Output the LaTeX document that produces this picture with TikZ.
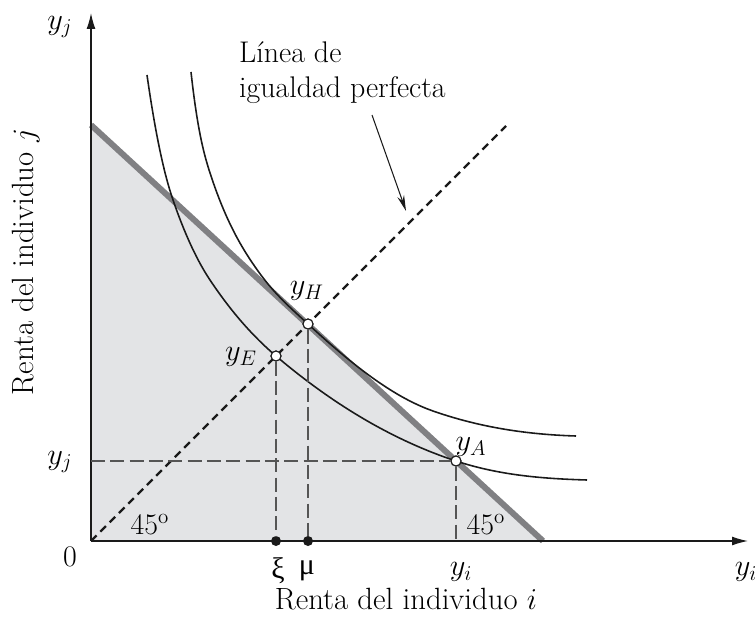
\documentclass[tikz,border=0pt]{standalone}
\usepackage{fontspec}
\usepackage{tikz}
\usetikzlibrary{positioning,arrows.meta,calc}
\newfontfamily\grkfont{Liberation Serif}
\definecolor{ink}{HTML}{1A1A1A}
\definecolor{budg}{HTML}{808083}
\definecolor{feas}{HTML}{E3E4E6}
\definecolor{drop}{HTML}{555555}

\begin{document}
\begin{tikzpicture}[font=\fontsize{17}{20}\selectfont,
  axis/.style={ink,line width=0.7pt,-{Latex[length=9pt,width=5pt]}},
  indiff/.style={ink,line width=0.9pt},
  guide/.style={drop,line width=0.6pt,dash pattern=on 8pt off 3pt},
  eqline/.style={ink,line width=1.3pt,dash pattern=on 4.5pt off 3pt},
  opt/.style={circle,draw=ink,fill=white,line width=0.6pt,inner sep=0pt,minimum size=0.2cm},
  tick/.style={circle,fill=ink,inner sep=0pt,minimum size=0.2cm},
  ticklab/.style={inner sep=0.5pt},
  axtitle/.style={inner sep=0.5pt,font=\fontsize{17.5}{21}\selectfont}]
\useasboundingbox (-1.82,-1.5) rectangle (13.28,10.82);
% feasible set below the budget line
\fill[feas] (0,0) -- (0,8.32) -- (9.04,0) -- cycle;
\draw[budg,line width=3.4pt] (0,8.32) -- (9.04,0);
% axes
\coordinate (O) at (0,0);
\coordinate (ytop) at (0,10.56);
\coordinate (xend) at (13.14,0);
\draw[axis] (O) -- (ytop);
\draw[axis] (O) -- (xend);
% line of perfect equality
\coordinate (eqend) at (8.3,8.3);
\draw[eqline] (O) -- (eqend);
% indifference curves
\draw[indiff] (1.12,9.32) .. controls (1.293,8.107) and (1.467,7.323) .. (1.64,6.82)
  .. controls (1.887,6.105) and (2.133,5.59) .. (2.38,5.22)
  .. controls (2.82,4.56) and (3.26,4.074) .. (3.7,3.7)
  .. controls (4.9,2.68) and (6.1,1.996) .. (7.3,1.6)
  .. controls (8.173,1.312) and (9.047,1.246) .. (9.92,1.22);
\draw[indiff] (2.0,9.38) .. controls (2.133,8.18) and (2.267,7.7) .. (2.4,7.3)
  .. controls (2.713,6.36) and (3.027,5.838) .. (3.34,5.4)
  .. controls (3.673,4.933) and (4.007,4.647) .. (4.34,4.34)
  .. controls (5.173,3.573) and (6.007,2.892) .. (6.84,2.6)
  .. controls (7.793,2.266) and (8.747,2.129) .. (9.7,2.1);
% points on the axes
\node[tick] (xi) at (3.7,0) {};
\node[tick] (mu) at (4.34,0) {};
\coordinate (yiT) at (7.3,0);
\coordinate (yjT) at (0,1.6);
% equivalent, mean and actual incomes
\node[opt] (yE) at (3.7,3.7) {};
\node[opt] (yH) at (4.34,4.34) {};
\node[opt] (yA) at (7.3,1.6) {};
\draw[guide] (yE) -- (xi);
\draw[guide] (yH) -- (mu);
\draw[guide] (yA) -- (yiT);
\draw[guide] (yjT) -- (yA);
\node[opt] at (yE) {};
\node[opt] at (yH) {};
\node[opt] at (yA) {};
% labels
\node at (3.0,3.68) {$y_E$};
\node at (4.32,5.0) {$y_H$};
\node at (7.6,1.88) {$y_A$};
\node at (1.18,0.32) {45\textsuperscript{o}};
\node at (7.9,0.32) {45\textsuperscript{o}};
\node at (-0.62,10.28) {$y_j$};
\node[ticklab] at (13.1,-0.62) {$y_i$};
\node at (-0.42,-0.32) {0};
\node at (-0.62,1.58) {$y_j$};
\node[ticklab] at (3.74,-0.6) {\grkfont ξ};
\node[ticklab] at (4.32,-0.6) {\grkfont μ};
\node[ticklab] at (7.4,-0.62) {$y_i$};
\node[axtitle] at (6.3,-1.16) {Renta del individuo $i$};
\node[axtitle,rotate=90] at (-1.3,5.58) {Renta del individuo $j$};
\node[align=left,anchor=west] (lbl) at (2.84,9.37) {Línea de\\igualdad perfecta};
\coordinate (arrS) at (5.62,8.52);
\coordinate (arrE) at (6.3,6.6);
\draw[ink,line width=0.6pt,-{Stealth[length=9pt,width=4pt]}] (arrS) -- (arrE);
\end{tikzpicture}
\end{document}
